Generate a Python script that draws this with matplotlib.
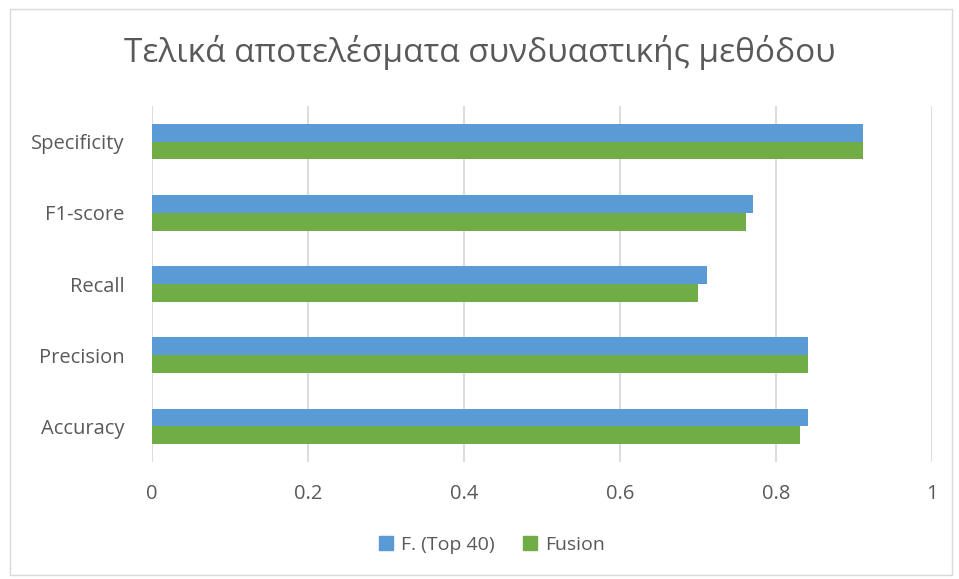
import matplotlib.pyplot as plt
import matplotlib.patches as mpatches
import numpy as np

plt.rcParams['font.family'] = ['Open Sans', 'DejaVu Sans']

categories = ["Accuracy", "Precision", "Recall", "F1-score", "Specificity"]
top40 = [0.841, 0.841, 0.711, 0.771, 0.911]
fusion = [0.831, 0.841, 0.700, 0.761, 0.911]
series_names = ["F. (Top 40)", "Fusion"]
xticks = [0, 0.2, 0.4, 0.6, 0.8, 1]
xticklabels = ["0", "0.2", "0.4", "0.6", "0.8", "1"]

blue = "#5B9BD5"
green = "#70AD47"
text_c = "#595959"
grid_c = "#D9D9D9"

fig = plt.figure(figsize=(9.59, 5.79), dpi=100)
fig.patches.append(mpatches.Rectangle((10 / 959, 4 / 579), 942 / 959, 566 / 579,
                                      transform=fig.transFigure, fill=False,
                                      edgecolor=grid_c, linewidth=1))
ax = fig.add_axes([152 / 959, 1 - 462 / 579, 780 / 959, 356 / 579])

y = np.arange(len(categories))
h = 0.25
ax.barh(y + h / 2, top40, height=h, color=blue, label=series_names[0], zorder=3)
ax.barh(y - h / 2, fusion, height=h, color=green, label=series_names[1], zorder=3)

ax.set_xlim(0, 1)
ax.set_ylim(-0.5, len(categories) - 0.5)
ax.set_xticks(xticks)
ax.set_xticklabels(xticklabels)
ax.set_yticks(y)
ax.set_yticklabels(categories)
ax.tick_params(axis='both', length=0, labelsize=14.5, colors=text_c)
ax.tick_params(axis='x', pad=16)
ax.tick_params(axis='y', pad=20)
ax.grid(axis='x', color=grid_c, linewidth=1.3, zorder=0)
for s in ax.spines.values():
    s.set_visible(False)

fig.text(0.5, 1 - 53 / 579, "Τελικά αποτελέσματα συνδυαστικής μεθόδου",
         ha='center', va='center', fontsize=24, color=text_c)

handles = [mpatches.Patch(color=blue), mpatches.Patch(color=green)]
fig.legend(handles, series_names, loc='center', bbox_to_anchor=(492 / 959, 1 - 545 / 579),
           ncol=2, frameon=False, fontsize=14, labelcolor=text_c,
           handlelength=0.7, handleheight=0.7, handletextpad=0.4, columnspacing=1.5)

fig.savefig("out.png", dpi=100)
